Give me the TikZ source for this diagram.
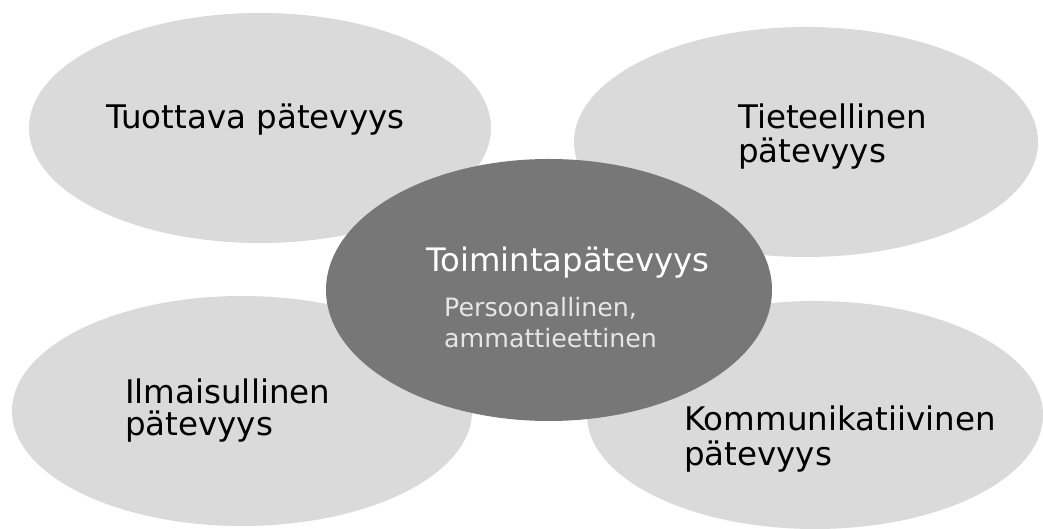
\documentclass[tikz,border=0pt]{standalone}
\usepackage{fontspec}
\setmainfont{DejaVu Sans}
\usetikzlibrary{shapes.geometric}
\definecolor{lightfill}{HTML}{DADADA}
\definecolor{darkfill}{HTML}{777777}
\definecolor{subtext}{HTML}{E6E6E6}
\tikzset{
  outer/.style={ellipse, fill=lightfill, draw=none, inner sep=0pt},
  inner/.style={ellipse, fill=darkfill, draw=none, inner sep=0pt},
  lbl/.style={anchor=base west, inner sep=0pt, font=\fontsize{32.5}{38}\selectfont, text=black},
  clbl/.style={anchor=base west, inner sep=0pt, font=\fontsize{32.3}{38}\selectfont, text=white},
  slbl/.style={anchor=base west, inner sep=0pt, font=\fontsize{25.3}{30}\selectfont, text=subtext}
}
\begin{document}
\begin{tikzpicture}[x=1pt,y=1pt]
\useasboundingbox (0,0) rectangle (1043,529);
\fill[white] (0,0) rectangle (1043,529);
\node[outer, minimum width=462pt, minimum height=230pt] (etl) at (260,401) {};
\node[outer, minimum width=464pt, minimum height=230pt] (etr) at (806,387) {};
\node[outer, minimum width=460pt, minimum height=230pt] (ebl) at (242,118) {};
\node[outer, minimum width=456pt, minimum height=228pt] (ebr) at (815,114) {};
\node[inner, minimum width=446pt, minimum height=262pt] (ec) at (549,239) {};
\node[lbl] (tl1) at (106,400) {Tuottava pätevyys};
\node[lbl] (tr1) at (738,400) {Tieteellinen};
\node[lbl] (tr2) at (738,366) {pätevyys};
\node[lbl] (bl1) at (125,125) {Ilmaisullinen};
\node[lbl] (bl2) at (125,93) {pätevyys};
\node[lbl] (br1) at (684,98) {Kommunikatiivinen};
\node[lbl] (br2) at (684,63) {pätevyys};
\node[clbl] (c1) at (426,257) {Toimintapätevyys};
\node[slbl] (c2) at (444,212) {Persoonallinen,};
\node[slbl] (c3) at (444,181) {ammattieettinen};
\end{tikzpicture}
\end{document}
